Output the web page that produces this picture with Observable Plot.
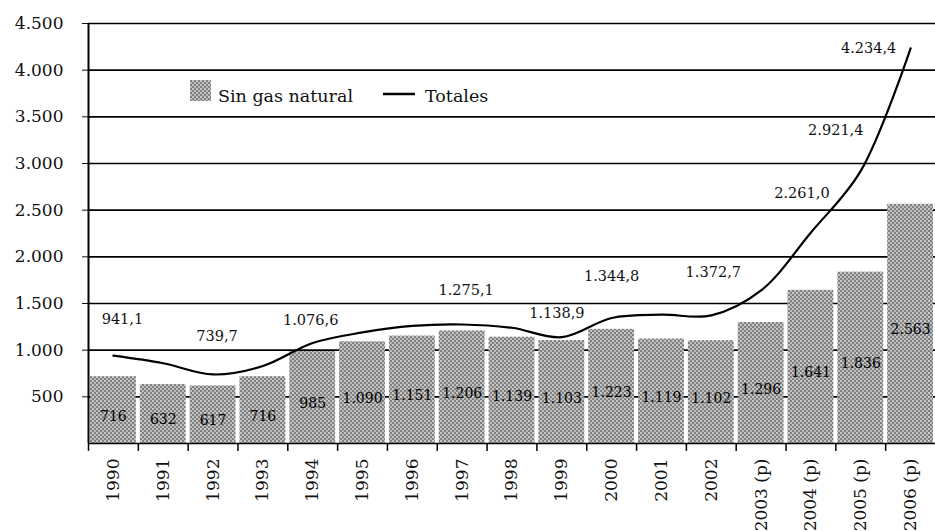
<!DOCTYPE html>
<html><head><meta charset="utf-8">
<script src="https://cdn.jsdelivr.net/npm/d3@7"></script>
<script src="https://cdn.jsdelivr.net/npm/@observablehq/plot@0.6"></script>
<style>body{margin:0;background:#fff} #chart{width:935px;height:531px;overflow:hidden}</style>
</head><body><div id="chart"></div>
<script>
// ---- data ----
const years = ["1990","1991","1992","1993","1994","1995","1996","1997","1998","1999","2000","2001","2002","2003 (p)","2004 (p)","2005 (p)","2006 (p)"];
const sinGasNatural = [716,632,617,716,985,1090,1151,1206,1139,1103,1223,1119,1102,1296,1641,1836,2563];
const totales = [941.1,860,739.7,830,1076.6,1190,1260,1275.1,1240,1138.9,1344.8,1380,1372.7,1640,2261.0,2921.4,4234.4];
const labeledYears = ["1990","1992","1994","1997","1999","2000","2002","2004 (p)","2005 (p)","2006 (p)"];
const yTicks = [500,1000,1500,2000,2500,3000,3500,4000,4500];
const seriesNames = ["Sin gas natural","Totales"];

// ---- label nudges (styling) ----
const nudge = {
  "1990": [9,-36], "1992": [4,-38], "1994": [-2,-23], "1997": [4,-34], "1999": [-5,-24],
  "2000": [0,-42], "2002": [2,-43], "2004 (p)": [-9,-39], "2005 (p)": [-25,-40], "2006 (p)": [-42,0]
};

const es = d3.formatLocale({decimal: ",", thousands: ".", grouping: [3], currency: ["", ""]});
const fInt = es.format(",d"), fDec = es.format(",.1f");
const data = years.map((y, i) => ({year: y, sinGas: sinGasNatural[i], total: totales[i]}));

const W = 935, H = 531, ML = 88, MR = 0, MT = 23, MB = 88;
const step = (W - ML - MR) / years.length;

const labelMarks = labeledYears.map(yr => {
  const d = data.find(e => e.year === yr);
  return Plot.text([d], {x: "year", y: "total", text: e => fDec(e.total), dx: nudge[yr][0], dy: nudge[yr][1], fontSize: 14.5, fill: "#111"});
});

const plot = Plot.plot({
  width: W, height: H, marginLeft: ML, marginRight: MR, marginTop: MT, marginBottom: MB,
  style: {fontFamily: "'DejaVu Serif', serif", fontSize: "17px", color: "#111", background: "#fff", overflow: "visible"},
  x: {domain: years, type: "band", round: false, paddingInner: 0.08, paddingOuter: 0.04, label: null, tickSize: 0, tickPadding: 15, tickRotate: -90},
  y: {domain: [0, 4500], label: null, ticks: yTicks, tickFormat: fInt, tickSize: 6, tickPadding: 19},
  marks: [
    Plot.ruleY(yTicks, {stroke: "#000", strokeWidth: 1.6}),
    Plot.barY(data, {x: "year", y: "sinGas", fill: "url(#dots)"}),
    Plot.text(data, {x: "year", y: d => d.sinGas / 2, text: d => fInt(d.sinGas), dy: 6, fontSize: 14, fill: "#000"}),
    Plot.ruleY([0], {stroke: "#000", strokeWidth: 1.6}),
    Plot.ruleX(years, {x: d => d, y1: 0, y2: -85, dx: -step / 2, stroke: "#000", strokeWidth: 1.5}),
    Plot.ruleX([years[0]], {x: d => d, y1: 0, y2: 4500, dx: -step / 2, stroke: "#000", strokeWidth: 2}),
    Plot.line(data, {x: "year", y: "total", curve: "catmull-rom", stroke: "#000", strokeWidth: 2.2}),
    ...labelMarks
  ]
});

// pattern definition for the stippled bars
const ns = "http://www.w3.org/2000/svg";
const defs = document.createElementNS(ns, "defs");
defs.innerHTML = `<pattern id="dots" width="4" height="4" patternUnits="userSpaceOnUse">
  <rect width="4" height="4" fill="#8c8c8c"/>
  <circle cx="1" cy="1" r="0.95" fill="#e2e2e2"/>
  <circle cx="3" cy="3" r="0.95" fill="#d0d0d0"/>
  <circle cx="3" cy="1" r="0.6" fill="#555"/>
  <circle cx="1" cy="3" r="0.6" fill="#555"/>
</pattern>`;
plot.insertBefore(defs, plot.firstChild);

// legend inside the plot area
const g = document.createElementNS(ns, "g");
g.setAttribute("font-family", "'DejaVu Serif', serif");
g.setAttribute("font-size", "17.5");
g.setAttribute("text-anchor", "start");
g.innerHTML = `<rect x="190" y="80" width="21" height="21" fill="url(#dots)"/>
<text x="218" y="102" fill="#111" text-anchor="start">${seriesNames[0]}</text>
<line x1="383" x2="415" y1="94" y2="94" stroke="#000" stroke-width="2.5"/>
<text x="425" y="102" fill="#111" text-anchor="start">${seriesNames[1]}</text>`;
plot.appendChild(g);

document.getElementById("chart").appendChild(plot);
</script>
</body></html>
